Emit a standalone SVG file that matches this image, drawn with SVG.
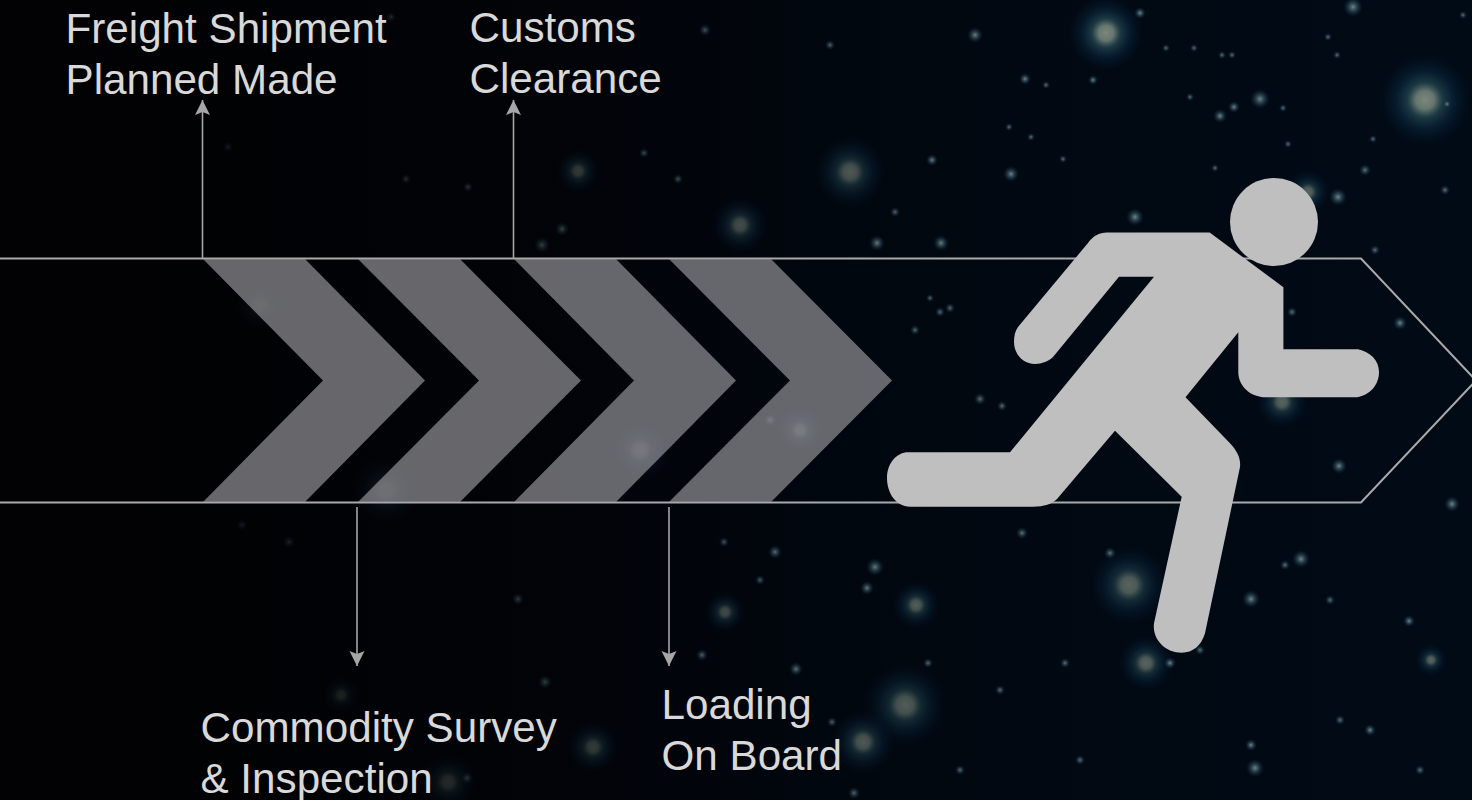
<svg xmlns="http://www.w3.org/2000/svg" width="1472" height="800" viewBox="0 0 1472 800">
<style>
.lbl{font-family:"Liberation Sans",Arial,sans-serif;font-size:42.200px;fill:#d9d9d9}
.band{fill:none;stroke:#a9a9a9;stroke-width:2}
.conn{fill:none;stroke:#a6a6a6;stroke-width:1.6}
.chev{fill:#8d8d93;fill-opacity:.72}
.runner{fill:#bfbfbf}
.big{fill:url(#glowBig);opacity:.72}
.mid{fill:url(#glowMid);opacity:.85}
.sm{fill:url(#glowSm)}
</style>
<defs>
<linearGradient id="bg" x1="0" y1="0" x2="1" y2="0">
<stop offset="0" stop-color="#020204"/><stop offset=".35" stop-color="#01040a"/><stop offset=".65" stop-color="#010811"/><stop offset="1" stop-color="#010b16"/>
</linearGradient>
<linearGradient id="leftShade" x1="0" y1="0" x2="1" y2="0">
<stop offset="0" stop-color="#020204" stop-opacity=".95"/><stop offset=".3" stop-color="#020204" stop-opacity=".6"/><stop offset=".55" stop-color="#020408" stop-opacity=".15"/><stop offset=".7" stop-color="#020408" stop-opacity="0"/>
</linearGradient>
<radialGradient id="glowBig"><stop offset="0" stop-color="#7d877c"/><stop offset=".2" stop-color="#66766f"/><stop offset=".38" stop-color="#24454f" stop-opacity=".8"/><stop offset=".65" stop-color="#0a2a44" stop-opacity=".5"/><stop offset="1" stop-color="#06182c" stop-opacity="0"/></radialGradient>
<radialGradient id="glowMid"><stop offset="0" stop-color="#8498a0"/><stop offset=".3" stop-color="#47656f" stop-opacity=".9"/><stop offset="1" stop-color="#0a2a40" stop-opacity="0"/></radialGradient>
<radialGradient id="glowSm"><stop offset="0" stop-color="#5f7382"/><stop offset=".5" stop-color="#2e4452" stop-opacity=".6"/><stop offset="1" stop-color="#122a3a" stop-opacity="0"/></radialGradient>
<marker id="ah" markerUnits="userSpaceOnUse" markerWidth="16" markerHeight="16" refX="15" refY="7.5" orient="auto"><path d="M0 0 L15 7.500 L0 15 L3 7.500 Z" fill="#a6a6a6"/></marker>
</defs>
<rect width="1472" height="800" fill="url(#bg)"/>
<g id="stars">
<circle class="big" cx="1106" cy="33" r="38" style="opacity:1"/><circle class="big" cx="1425" cy="100" r="46" style="opacity:1"/><circle class="big" cx="850" cy="172" r="36"/><circle class="big" cx="740" cy="225" r="28"/><circle class="big" cx="578" cy="171" r="22"/><circle class="big" cx="905" cy="705" r="42"/><circle class="big" cx="1129" cy="585" r="40"/><circle class="big" cx="1146" cy="663" r="28"/><circle class="big" cx="916" cy="605" r="24"/><circle class="big" cx="1282" cy="402" r="26"/><circle class="big" cx="386" cy="490" r="34"/><circle class="big" cx="640" cy="450" r="30"/><circle class="big" cx="863" cy="742" r="32"/><circle class="big" cx="593" cy="747" r="26"/><circle class="big" cx="725" cy="612" r="20"/><circle class="big" cx="448" cy="782" r="28"/><circle class="big" cx="341" cy="695" r="18"/><circle class="big" cx="260" cy="305" r="24"/><circle class="big" cx="1431" cy="660" r="16"/><circle class="big" cx="800" cy="430" r="22"/><circle class="big" cx="1308" cy="192" r="22"/>
<circle class="mid" cx="1338" cy="197" r="9"/><circle class="mid" cx="1135" cy="217" r="9"/><circle class="mid" cx="1011" cy="174" r="8"/><circle class="mid" cx="941" cy="243" r="8"/><circle class="mid" cx="877" cy="243" r="8"/><circle class="mid" cx="1400" cy="323" r="7"/><circle class="mid" cx="1339" cy="466" r="8"/><circle class="mid" cx="1452" cy="504" r="8"/><circle class="mid" cx="1301" cy="559" r="9"/><circle class="mid" cx="1251" cy="599" r="9"/><circle class="mid" cx="1409" cy="621" r="6"/><circle class="mid" cx="875" cy="567" r="9"/><circle class="mid" cx="867" cy="588" r="7"/><circle class="mid" cx="775" cy="552" r="7"/><circle class="mid" cx="796" cy="669" r="7"/><circle class="mid" cx="702" cy="655" r="6"/><circle class="mid" cx="1260" cy="99" r="10"/><circle class="mid" cx="1220" cy="116" r="7"/><circle class="mid" cx="1234" cy="107" r="6"/><circle class="mid" cx="1353" cy="7" r="10"/><circle class="mid" cx="975" cy="35" r="8"/><circle class="mid" cx="1170" cy="663" r="6"/><circle class="mid" cx="1255" cy="768" r="9"/><circle class="mid" cx="1251" cy="745" r="6"/><circle class="mid" cx="1370" cy="730" r="6"/><circle class="mid" cx="932" cy="160" r="6"/><circle class="mid" cx="1140" cy="13" r="6"/><circle class="mid" cx="1025" cy="79" r="6"/><circle class="mid" cx="1093" cy="80" r="5"/><circle class="mid" cx="1447" cy="104" r="4"/>
<circle class="sm" cx="1110" cy="553" r="6"/><circle class="sm" cx="1022" cy="533" r="6"/><circle class="sm" cx="980" cy="399" r="6"/><circle class="sm" cx="928" cy="663" r="5"/><circle class="sm" cx="1065" cy="663" r="5"/><circle class="sm" cx="1292" cy="312" r="5"/><circle class="sm" cx="915" cy="330" r="5"/><circle class="sm" cx="950" cy="308" r="5"/><circle class="sm" cx="940" cy="312" r="5"/><circle class="sm" cx="930" cy="298" r="4"/><circle class="sm" cx="1002" cy="406" r="5"/><circle class="sm" cx="895" cy="212" r="5"/><circle class="sm" cx="545" cy="682" r="7"/><circle class="sm" cx="518" cy="599" r="6"/><circle class="sm" cx="289" cy="542" r="6"/><circle class="sm" cx="724" cy="542" r="5"/><circle class="sm" cx="854" cy="793" r="6"/><circle class="sm" cx="467" cy="778" r="6"/><circle class="sm" cx="242" cy="525" r="5"/><circle class="sm" cx="760" cy="580" r="5"/><circle class="sm" cx="832" cy="722" r="5"/><circle class="sm" cx="542" cy="245" r="8"/><circle class="sm" cx="562" cy="229" r="7"/><circle class="sm" cx="678" cy="179" r="5"/><circle class="sm" cx="406" cy="179" r="5"/><circle class="sm" cx="468" cy="187" r="5"/><circle class="sm" cx="644" cy="153" r="5"/><circle class="sm" cx="228" cy="147" r="5"/><circle class="sm" cx="391" cy="17" r="5"/><circle class="sm" cx="705" cy="30" r="6"/><circle class="sm" cx="830" cy="45" r="5"/><circle class="sm" cx="1166" cy="48" r="4"/><circle class="sm" cx="1194" cy="48" r="4"/><circle class="sm" cx="1222" cy="55" r="4"/><circle class="sm" cx="1232" cy="55" r="4"/><circle class="sm" cx="1190" cy="97" r="4"/><circle class="sm" cx="1288" cy="144" r="4"/><circle class="sm" cx="1463" cy="15" r="4"/><circle class="sm" cx="1328" cy="37" r="4"/><circle class="sm" cx="1337" cy="55" r="4"/><circle class="sm" cx="1373" cy="139" r="4"/><circle class="sm" cx="1009" cy="127" r="4"/><circle class="sm" cx="1031" cy="137" r="4"/><circle class="sm" cx="1063" cy="159" r="4"/><circle class="sm" cx="1215" cy="168" r="4"/><circle class="sm" cx="1046" cy="85" r="4"/><circle class="sm" cx="1283" cy="108" r="4"/><circle class="sm" cx="1365" cy="170" r="6"/><circle class="sm" cx="1375" cy="250" r="5"/><circle class="sm" cx="1445" cy="190" r="5"/><circle class="sm" cx="770" cy="420" r="6"/><circle class="sm" cx="1330" cy="600" r="5"/><circle class="sm" cx="1340" cy="720" r="5"/><circle class="sm" cx="1200" cy="650" r="5"/><circle class="sm" cx="1285" cy="565" r="5"/><circle class="sm" cx="1000" cy="690" r="5"/><circle class="sm" cx="1080" cy="760" r="5"/><circle class="sm" cx="1420" cy="770" r="5"/><circle class="sm" cx="960" cy="770" r="5"/>
</g>
<rect id="shade" width="1472" height="800" fill="url(#leftShade)"/>
<g id="shipment-band">
<path class="band" d="M-4 258.500 H1361 L1476 380.500 L1361 502.500 H-4"/>
</g>
<g id="chevrons">
<polygon class="chev" points="203,259 305,259 425,380.500 305,502 203,502 323,380.500"/>
<polygon class="chev" points="358,259 460,259 581,380.500 460,502 358,502 479,380.500"/>
<polygon class="chev" points="514,259 616,259 736,380.500 616,502 514,502 634,380.500"/>
<polygon class="chev" points="669,259 771,259 892,380.500 771,502 669,502 790,380.500"/>
</g>
<g id="connectors">
<line class="conn" x1="202.500" y1="258" x2="202.500" y2="100" marker-end="url(#ah)"/>
<line class="conn" x1="513.500" y1="258" x2="513.500" y2="100" marker-end="url(#ah)"/>
<line class="conn" x1="357" y1="507" x2="357" y2="666" marker-end="url(#ah)"/>
<line class="conn" x1="669" y1="507" x2="669" y2="666" marker-end="url(#ah)"/>
</g>
<g id="node-freight"><text class="lbl" x="65.500" y="43">Freight Shipment</text><text class="lbl" x="65.500" y="94">Planned Made</text></g>
<g id="node-customs"><text class="lbl" x="469.500" y="41.500">Customs</text><text class="lbl" x="469.500" y="92.500">Clearance</text></g>
<g id="node-survey"><text class="lbl" x="200.500" y="741.500">Commodity Survey</text><text class="lbl" x="200.500" y="792.500">&amp; Inspection</text></g>
<g id="node-loading"><text class="lbl" x="661.500" y="718.500">Loading</text><text class="lbl" x="661.500" y="769.500">On Board</text></g>
<g id="runner">
<ellipse class="runner" cx="1274" cy="222" rx="44" ry="44"/>
<path class="runner" d="M1209.700 232.500 L1283.400 287.300 V349.300 H1358 C1370 352 1379 360 1379 372 C1379 385 1370 395 1357 397.300 H1266 C1250 397 1238.300 386 1238.300 371.700 V332.300 L1185.500 397.300 L1230 443.300 C1237 451 1241 458 1240 467 L1205 633.300 C1201 646 1193 652.700 1181.700 652.700 C1165 652.700 1152 639 1154 623.300 L1181.700 496.700 L1115 430.700 L1057 499 C1052 504 1044 506.700 1033 506.700 H910 C896 506.700 887 493 887 478 C887 463 897 452.300 908 452.300 H1010 L1154 276.700 H1119 L1053 357 C1049 361 1042 364 1035 364 C1023 364 1014 354 1014 342 C1014 336 1015 331 1018 327 L1088 243 C1093 236 1099 232.500 1107 232.500 Z"/>
</g>
</svg>
